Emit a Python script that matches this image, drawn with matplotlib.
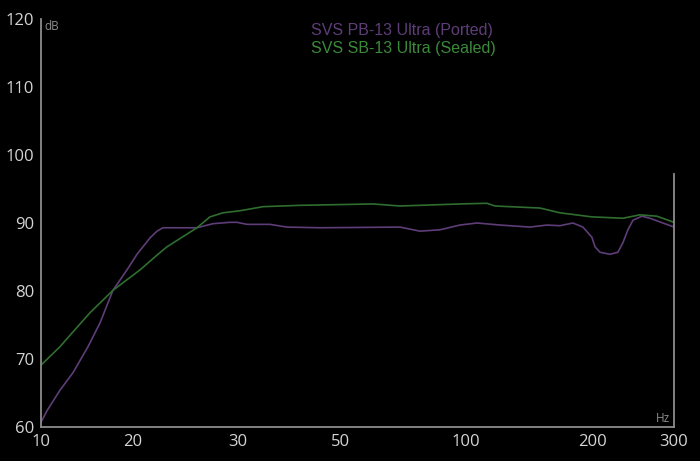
import matplotlib
matplotlib.use("Agg")
import matplotlib.pyplot as plt
from matplotlib.ticker import FixedLocator, FixedFormatter, NullLocator

# frequency (Hz) and level (dB)
ported_hz = [10, 10.33, 11.07, 11.88, 12.87, 13.73, 14.72, 15.87, 16.75, 17.96,
             18.65, 19.26, 23.12, 25.2, 27.6, 28.67, 30.25, 34.2, 37.5, 44.77,
             68.8, 76.6, 85.3, 95.0, 104.1, 117.8, 138.3, 151.6, 162.5, 174.3,
             183.9, 193.0, 196.2, 201.6, 212.7, 221.9, 228.0, 234.2, 240.6, 252.5,
             263.6, 300]
ported_db = [60.7, 62.4, 65.4, 68.0, 71.8, 75.3, 80.1, 83.1, 85.4, 87.8,
             88.8, 89.3, 89.3, 89.9, 90.1, 90.1, 89.8, 89.8, 89.4, 89.3,
             89.4, 88.8, 89.0, 89.7, 90.0, 89.7, 89.4, 89.7, 89.6, 90.0,
             89.4, 87.9, 86.5, 85.7, 85.4, 85.7, 87.1, 89.0, 90.4, 91.0,
             90.7, 89.4]

sealed_hz = [10, 11.07, 11.88, 13.01, 14.72, 17.02, 18.75, 19.68, 23.12, 24.79,
             26.58, 29.13, 32.96, 40.2, 59.5, 68.8, 95.0, 109.8, 114.6, 146.0,
             162.5, 193.0, 228.0, 249.8, 273.7, 300]
sealed_db = [69.1, 71.8, 74.0, 76.8, 80.1, 83.1, 85.4, 86.5, 89.3, 90.9,
             91.5, 91.8, 92.4, 92.6, 92.8, 92.5, 92.8, 92.9, 92.5, 92.2,
             91.5, 90.9, 90.7, 91.2, 91.0, 90.1]

series_names = ["SVS PB-13 Ultra (Ported)", "SVS SB-13 Ultra (Sealed)"]

# tick labels as they sit in the reference
xtick_pos = [10, 16.4, 28.8, 50, 98, 194, 300]
xtick_labels = ["10", "20", "30", "50", "100", "200", "300"]
ytick_vals = [60, 70, 80, 90, 100, 110, 120]

purple = "#5e3d78"
green = "#2f6e2f"
axis_gray = "#8c8c8c"
label_gray = "#d4d4d4"

fig = plt.figure(figsize=(7, 4.61), dpi=100, facecolor="black")
ax = fig.add_axes([41 / 700, 1 - 427 / 461, 633 / 700, 408 / 461])
ax.set_facecolor("black")

ax.plot(ported_hz, ported_db, color=purple, lw=1.2)
ax.plot(sealed_hz, sealed_db, color=green, lw=1.2)

ax.set_xscale("log")
ax.set_xlim(10, 300)
ax.set_ylim(60, 120)

ax.xaxis.set_major_locator(FixedLocator(xtick_pos))
ax.xaxis.set_major_formatter(FixedFormatter(xtick_labels))
ax.xaxis.set_minor_locator(NullLocator())
ax.set_yticks(ytick_vals)

for lab in ax.get_xticklabels() + ax.get_yticklabels():
    lab.set_fontfamily(["Open Sans", "DejaVu Sans"])
ax.tick_params(axis="both", length=0, colors=label_gray, labelsize=12)
ax.tick_params(axis="x", pad=5)
ax.tick_params(axis="y", pad=5)

ax.spines["top"].set_visible(False)
for side in ["left", "bottom", "right"]:
    ax.spines[side].set_color(axis_gray)
    ax.spines[side].set_linewidth(1.3)
ax.spines["right"].set_bounds(60, 97.2)

ax.text(0.005, 0.998, "dB", transform=ax.transAxes, color=axis_gray,
        fontsize=8.5, ha="left", va="top", family=["Open Sans", "DejaVu Sans"])
ax.text(0.994, 0.006, "Hz", transform=ax.transAxes, color=axis_gray,
        fontsize=8.5, ha="right", va="bottom", family=["Open Sans", "DejaVu Sans"])

fig.text(311 / 700, 1 - 30 / 461, series_names[0], color=purple, fontsize=11.5,
         family="Liberation Sans", ha="left", va="center")
fig.text(311 / 700, 1 - 48 / 461, series_names[1], color="#3b8a3b", fontsize=11.5,
         family="Liberation Sans", ha="left", va="center")

fig.savefig("out.png", dpi=100, facecolor="black")
